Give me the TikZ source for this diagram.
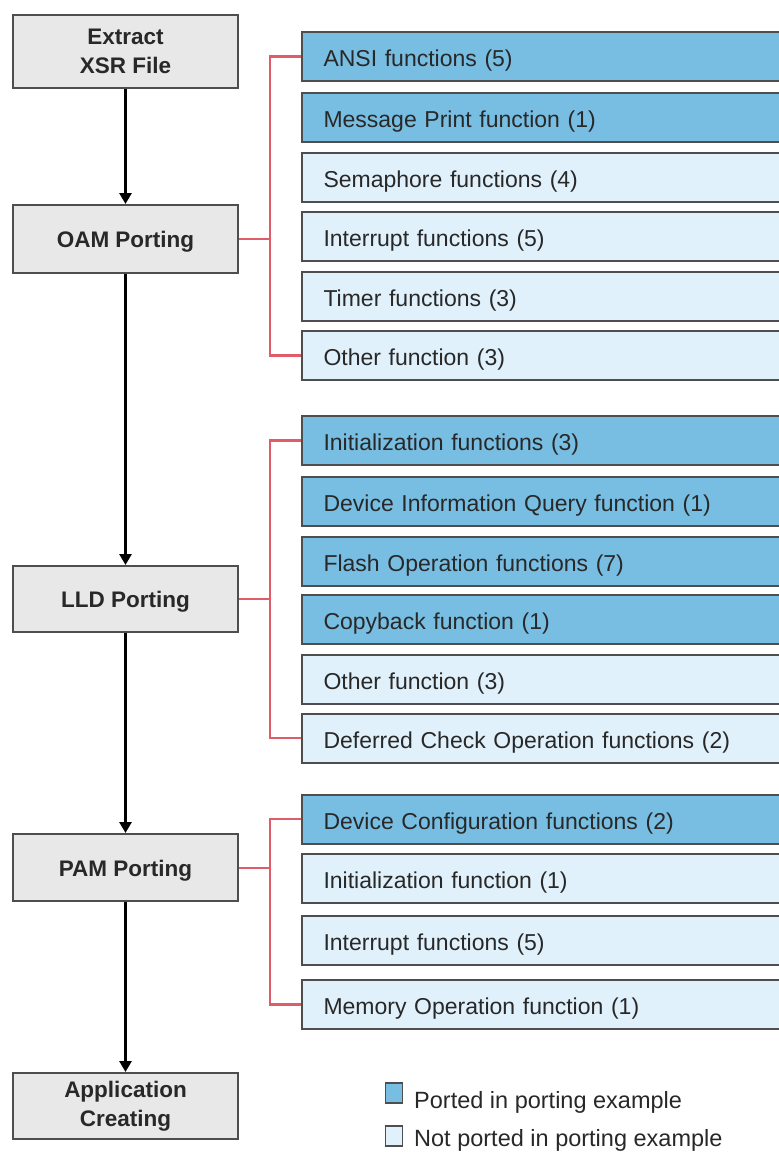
\documentclass[tikz,border=0pt]{standalone}
\usepackage{fontspec}
\setmainfont{Liberation Sans}
\usetikzlibrary{arrows.meta}
\definecolor{ported}{RGB}{120,190,226}
\definecolor{notported}{RGB}{225,241,251}
\definecolor{stagefill}{RGB}{232,232,232}
\definecolor{edgegray}{RGB}{78,78,78}
\definecolor{linkred}{RGB}{224,92,104}
\definecolor{ink}{RGB}{40,40,40}

\begin{document}
\begin{tikzpicture}[x=1pt,y=-1pt,
  stage/.style={draw=edgegray, line width=2pt, fill=stagefill, minimum width=225pt,
    align=center, inner sep=0pt, text=ink,
    font=\fontsize{22.5}{29}\selectfont\bfseries},
  fn/.style={draw=edgegray, line width=2pt, anchor=west, minimum height=49pt,
    text width=452pt, text height=22pt, text depth=2pt,
    inner xsep=21.5pt, inner ysep=0pt, align=left, text=ink,
    font=\fontsize{23}{27}\selectfont},
  done/.style={fn, fill=ported},
  todo/.style={fn, fill=notported},
  flow/.style={line width=3.6pt, -{Triangle[length=11pt,width=12pt]}},
  link/.style={draw=linkred, line width=2.2pt},
  keybox/.style={draw=edgegray, line width=1.6pt, minimum width=17pt, minimum height=20pt, inner sep=0pt},
  keytext/.style={anchor=base west, inner sep=0pt, text=ink, font=\fontsize{23.5}{27}\selectfont}
]
\useasboundingbox (0,0) rectangle (779,1152);
\fill[white] (0,0) rectangle (779,1152);
\clip (0,0) rectangle (779,1152);

% main flow
\node[stage, minimum height=73pt] (extract) at (125.5,51.5) {Extract\\XSR File};
\node[stage, minimum height=68pt, text height=17pt, text depth=0pt] (oam) at (125.5,239) {OAM Porting};
\node[stage, minimum height=66pt, text height=17pt, text depth=0pt] (lld) at (125.5,599) {LLD Porting};
\node[stage, minimum height=67pt, text height=17pt, text depth=0pt] (pam) at (125.5,867.5) {PAM Porting};
\node[stage, minimum height=66pt] (app) at (125.5,1106) {Application\\Creating};

\draw[flow] (extract) -- (oam);
\draw[flow] (oam) -- (lld);
\draw[flow] (lld) -- (pam);
\draw[flow] (pam) -- (app);

% OAM functions
\node[done] (ansi)  at (301,56.5)  {ANSI functions (5)};
\node[done] (msg)   at (301,117)   {Message Print function (1)};
\node[todo] (sem)   at (301,177)   {Semaphore functions (4)};
\node[todo] (intr)  at (301,236.5) {Interrupt functions (5)};
\node[todo] (timer) at (301,296)   {Timer functions (3)};
\node[todo] (oamother) at (301,355.5) {Other function (3)};

% LLD functions
\node[done] (lldinit) at (301,440.5) {Initialization functions (3)};
\node[done] (query)   at (301,501.5) {Device Information Query function (1)};
\node[done] (flash)   at (301,561)   {Flash Operation functions (7)};
\node[done] (copy)    at (301,619.5) {Copyback function (1)};
\node[todo] (lldother) at (301,679)  {Other function (3)};
\node[todo] (deferred) at (301,738)  {Deferred Check Operation functions (2)};

% PAM functions
\node[done] (config)  at (301,819)   {Device Configuration functions (2)};
\node[todo] (paminit) at (301,878)   {Initialization function (1)};
\node[todo] (pamintr) at (301,940.5) {Interrupt functions (5)};
\node[todo] (memop)   at (301,1004.5) {Memory Operation function (1)};

% brackets joining each stage to its functions
\coordinate (oamspine) at (270,239);
\coordinate (lldspine) at (270,599);
\coordinate (pamspine) at (270,868);
\draw[link] (oam.east) -- (oamspine);
\draw[link] (ansi.west) -| (oamspine) |- (oamother.west);
\draw[link] (lld.east) -- (lldspine);
\draw[link] (lldinit.west) -| (lldspine) |- (deferred.west);
\draw[link] (pam.east |- pamspine) -- (pamspine);
\draw[link] (config.west) -| (pamspine) |- (memop.west);

% legend
\node[keybox, fill=ported] (keydone) at (394,1093) {};
\node[keybox, fill=notported] (keytodo) at (394,1136) {};
\node[keytext] (keydonetext) at (414,1108) {Ported in porting example};
\node[keytext] (keytodotext) at (414,1146) {Not ported in porting example};
\end{tikzpicture}
\end{document}
